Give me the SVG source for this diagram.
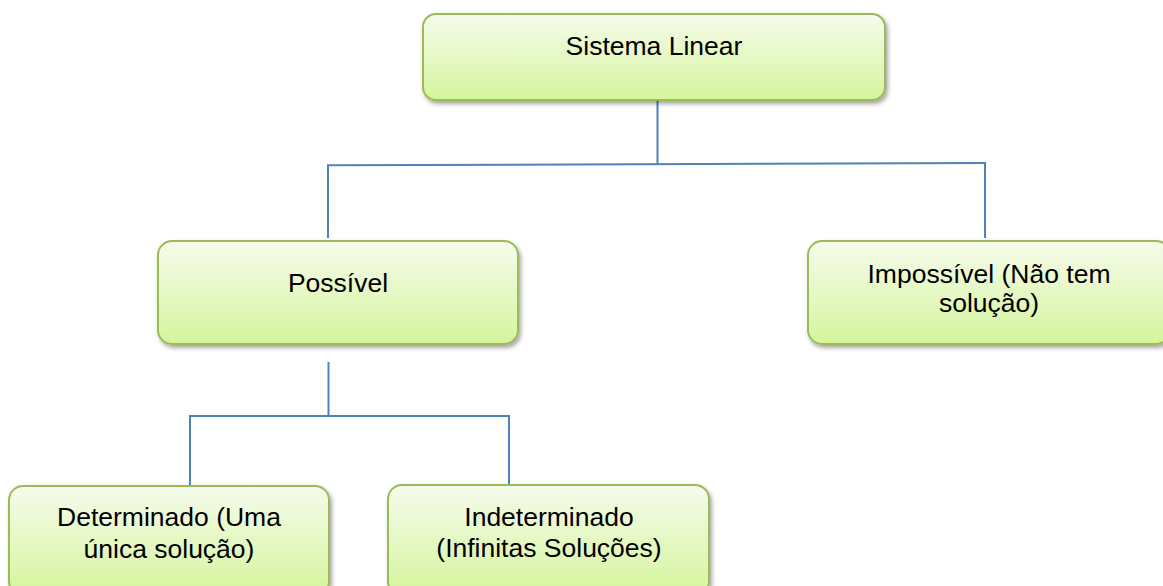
<svg xmlns="http://www.w3.org/2000/svg" width="1163" height="586" viewBox="0 0 1163 586">
  <style>
    .box { fill: url(#g); stroke: #9BBB59; stroke-width: 2; filter: url(#sh); }
    .lbl { font-family: "Liberation Sans", Arial, sans-serif; font-size: 26.5px; fill: #000; text-anchor: middle; }
    .conn { fill: none; stroke: #4F81BD; stroke-width: 2; }
  </style>
  <defs>
    <linearGradient id="g" x1="0" y1="0" x2="0" y2="1">
      <stop offset="0" stop-color="#F6FBEC"/>
      <stop offset="1" stop-color="#D5F59C"/>
    </linearGradient>
    <filter id="sh" x="-10%" y="-10%" width="120%" height="130%">
      <feDropShadow dx="2" dy="3" stdDeviation="2" flood-color="#000" flood-opacity="0.35"/>
    </filter>
  </defs>
  <rect width="1163" height="586" fill="#fff"/>

  <g id="connectors">
    <path class="conn" d="M657.5 100 V164"/>
    <path class="conn" d="M328 238 V165.3 L986 163"/>
    <path class="conn" d="M985 163 V238"/>
    <path class="conn" d="M328.5 362 V416"/>
    <path class="conn" d="M190 485 V416 H509 V485"/>
  </g>

  <g id="n-sistema">
    <rect class="box" x="423" y="14" width="462" height="86" rx="13"/>
    <text class="lbl" x="654" y="55">Sistema Linear</text>
  </g>

  <g id="n-possivel">
    <rect class="box" x="158" y="241" width="360" height="103" rx="14"/>
    <text class="lbl" x="338" y="292">Possível</text>
  </g>

  <g id="n-impossivel">
    <rect class="box" x="808" y="241" width="362" height="103" rx="14"/>
    <text class="lbl" x="989" y="283">Impossível (Não tem</text>
    <text class="lbl" x="989" y="312">solução)</text>
  </g>

  <g id="n-determinado">
    <rect class="box" x="9" y="486" width="320" height="110" rx="14"/>
    <text class="lbl" x="169" y="526">Determinado (Uma</text>
    <text class="lbl" x="169" y="558">única solução)</text>
  </g>

  <g id="n-indeterminado">
    <rect class="box" x="388" y="485" width="321" height="111" rx="14"/>
    <text class="lbl" x="549" y="526">Indeterminado</text>
    <text class="lbl" x="549" y="557">(Infinitas Soluções)</text>
  </g>
</svg>
